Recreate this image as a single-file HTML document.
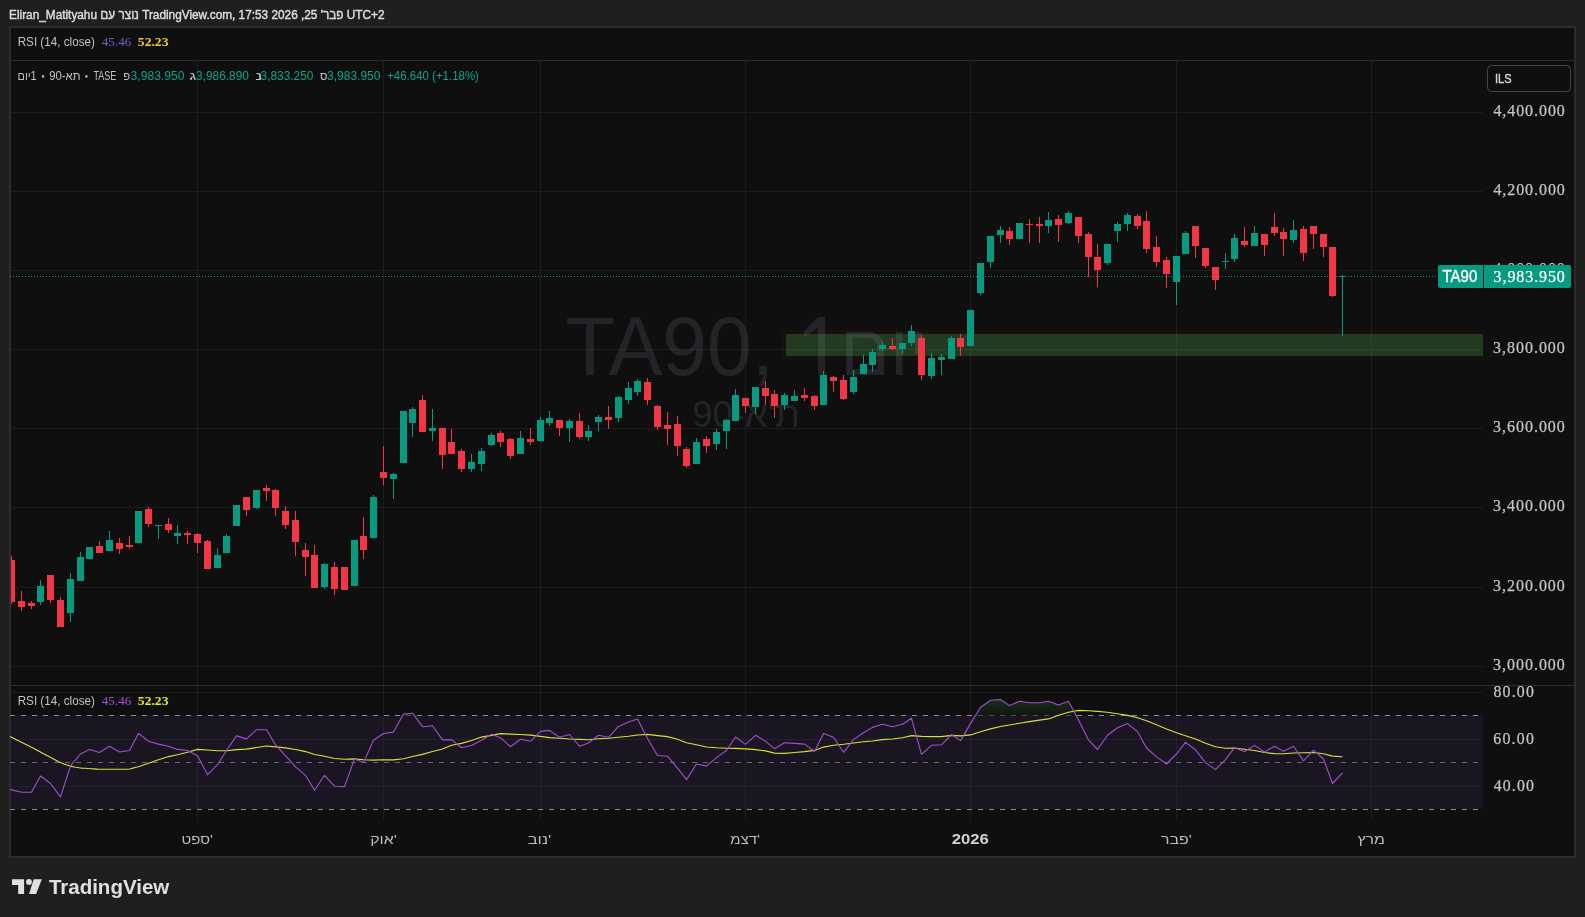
<!DOCTYPE html>
<html><head><meta charset="utf-8">
<style>
html,body{margin:0;padding:0;}
body{width:1585px;height:917px;background:#1f1f1f;position:relative;overflow:hidden;font-family:"Liberation Sans",sans-serif;}
</style></head><body>
<div style="position:absolute;left:9px;top:26px;width:1563px;height:828px;border:2px solid #2c2c2c;background:#0f0f0f;"></div>
<svg width="1585" height="917" style="position:absolute;left:0;top:0;will-change:transform">
<defs><clipPath id="pane"><rect x="11" y="61" width="1472" height="624"/></clipPath>
<linearGradient id="obg" x1="0" y1="692" x2="0" y2="715.5" gradientUnits="userSpaceOnUse"><stop offset="0" stop-color="#1d3a1f"/><stop offset="1" stop-color="#111611"/></linearGradient></defs>
<rect x="11" y="60" width="1564" height="1" fill="#2a2a2a"/>
<rect x="11" y="685" width="1564" height="1" fill="#2e2e2e"/>
<rect x="11" y="112" width="1472" height="1" fill="#1d1d1d"/><rect x="11" y="191" width="1472" height="1" fill="#1d1d1d"/><rect x="11" y="270" width="1472" height="1" fill="#1d1d1d"/><rect x="11" y="349" width="1472" height="1" fill="#1d1d1d"/><rect x="11" y="428" width="1472" height="1" fill="#1d1d1d"/><rect x="11" y="507" width="1472" height="1" fill="#1d1d1d"/><rect x="11" y="587" width="1472" height="1" fill="#1d1d1d"/><rect x="11" y="666" width="1472" height="1" fill="#1d1d1d"/><rect x="197" y="61" width="1" height="624" fill="#1d1d1d"/><rect x="197" y="686" width="1" height="135" fill="#1d1d1d"/><rect x="383" y="61" width="1" height="624" fill="#1d1d1d"/><rect x="383" y="686" width="1" height="135" fill="#1d1d1d"/><rect x="540" y="61" width="1" height="624" fill="#1d1d1d"/><rect x="540" y="686" width="1" height="135" fill="#1d1d1d"/><rect x="745" y="61" width="1" height="624" fill="#1d1d1d"/><rect x="745" y="686" width="1" height="135" fill="#1d1d1d"/><rect x="970" y="61" width="1" height="624" fill="#1d1d1d"/><rect x="970" y="686" width="1" height="135" fill="#1d1d1d"/><rect x="1176" y="61" width="1" height="624" fill="#1d1d1d"/><rect x="1176" y="686" width="1" height="135" fill="#1d1d1d"/><rect x="1371" y="61" width="1" height="624" fill="#1d1d1d"/><rect x="1371" y="686" width="1" height="135" fill="#1d1d1d"/><path d="M782,330 H1483 V360 H782 Z M786,334 V356 H1483 V334 Z" fill-rule="evenodd" fill="rgba(242,54,69,0.04)"/><rect x="786" y="334" width="697" height="22" fill="rgba(105,230,100,0.2)"/><g fill="rgba(178,181,205,0.125)"><text transform="translate(565.59,375.20) scale(0.9704,1)" x="0" y="0" font-family="Liberation Sans" font-size="82.86" font-weight="400" style="unicode-bidi:bidi-override;direction:ltr;white-space:pre" >TA90,</text><path d="M818.1,317.1 H825 V374.9 H818.1 V327.6 L803.8,337.8 V331.2 Z"/><text transform="translate(839.96,374.90) scale(1.0342,1)" x="0" y="0" font-family="Liberation Sans" font-size="71.00" font-weight="400" style="unicode-bidi:bidi-override;direction:ltr;white-space:pre" >םוי</text></g><text transform="translate(692.20,426.70) scale(0.9943,1)" x="0" y="0" font-family="Liberation Sans" font-size="36.71" font-weight="400" fill="rgba(178,181,205,0.125)" style="unicode-bidi:bidi-override;direction:ltr;white-space:pre" >90-א'ת</text><line x1="10" y1="276.5" x2="1438" y2="276.5" stroke="#089981" stroke-width="1" stroke-dasharray="1 2"/><g clip-path="url(#pane)"><rect x="11" y="556" width="1" height="48" fill="#f23645"/><rect x="8" y="560" width="7" height="42" fill="#f23645"/><rect x="21" y="591" width="1" height="20" fill="#f23645"/><rect x="18" y="601" width="7" height="6" fill="#f23645"/><rect x="31" y="601" width="1" height="8" fill="#f23645"/><rect x="28" y="603" width="7" height="3" fill="#f23645"/><rect x="40" y="580" width="1" height="25" fill="#089981"/><rect x="37" y="586" width="7" height="16" fill="#089981"/><rect x="50" y="575" width="1" height="28" fill="#f23645"/><rect x="47" y="575" width="7" height="25" fill="#f23645"/><rect x="60" y="597" width="1" height="30" fill="#f23645"/><rect x="57" y="600" width="7" height="27" fill="#f23645"/><rect x="70" y="573" width="1" height="49" fill="#089981"/><rect x="67" y="579" width="7" height="34" fill="#089981"/><rect x="80" y="552" width="1" height="29" fill="#089981"/><rect x="77" y="557" width="7" height="24" fill="#089981"/><rect x="89" y="547" width="1" height="12" fill="#089981"/><rect x="86" y="547" width="7" height="12" fill="#089981"/><rect x="99" y="541" width="1" height="12" fill="#f23645"/><rect x="96" y="546" width="7" height="7" fill="#f23645"/><rect x="109" y="531" width="1" height="20" fill="#089981"/><rect x="106" y="540" width="7" height="11" fill="#089981"/><rect x="119" y="538" width="1" height="16" fill="#f23645"/><rect x="116" y="543" width="7" height="6" fill="#f23645"/><rect x="129" y="536" width="1" height="13" fill="#f23645"/><rect x="126" y="545" width="7" height="2" fill="#f23645"/><rect x="138" y="511" width="1" height="32" fill="#089981"/><rect x="135" y="511" width="7" height="32" fill="#089981"/><rect x="148" y="507" width="1" height="20" fill="#f23645"/><rect x="145" y="509" width="7" height="15" fill="#f23645"/><rect x="158" y="525" width="1" height="14" fill="#089981"/><rect x="155" y="525" width="7" height="1" fill="#089981"/><rect x="168" y="518" width="1" height="15" fill="#f23645"/><rect x="165" y="524" width="7" height="6" fill="#f23645"/><rect x="177" y="525" width="1" height="19" fill="#089981"/><rect x="174" y="533" width="7" height="3" fill="#089981"/><rect x="187" y="531" width="1" height="13" fill="#f23645"/><rect x="184" y="533" width="7" height="2" fill="#f23645"/><rect x="197" y="533" width="1" height="20" fill="#f23645"/><rect x="194" y="534" width="7" height="9" fill="#f23645"/><rect x="207" y="540" width="1" height="29" fill="#f23645"/><rect x="204" y="541" width="7" height="28" fill="#f23645"/><rect x="217" y="548" width="1" height="20" fill="#089981"/><rect x="214" y="555" width="7" height="13" fill="#089981"/><rect x="226" y="534" width="1" height="19" fill="#089981"/><rect x="223" y="536" width="7" height="17" fill="#089981"/><rect x="236" y="505" width="1" height="21" fill="#089981"/><rect x="233" y="505" width="7" height="21" fill="#089981"/><rect x="246" y="497" width="1" height="19" fill="#f23645"/><rect x="243" y="497" width="7" height="13" fill="#f23645"/><rect x="256" y="490" width="1" height="19" fill="#089981"/><rect x="253" y="490" width="7" height="18" fill="#089981"/><rect x="266" y="485" width="1" height="16" fill="#f23645"/><rect x="263" y="488" width="7" height="3" fill="#f23645"/><rect x="275" y="489" width="1" height="27" fill="#f23645"/><rect x="272" y="490" width="7" height="18" fill="#f23645"/><rect x="285" y="506" width="1" height="23" fill="#f23645"/><rect x="282" y="511" width="7" height="14" fill="#f23645"/><rect x="295" y="511" width="1" height="45" fill="#f23645"/><rect x="292" y="520" width="7" height="22" fill="#f23645"/><rect x="305" y="543" width="1" height="33" fill="#f23645"/><rect x="302" y="550" width="7" height="7" fill="#f23645"/><rect x="314" y="545" width="1" height="43" fill="#f23645"/><rect x="311" y="555" width="7" height="33" fill="#f23645"/><rect x="324" y="563" width="1" height="26" fill="#089981"/><rect x="321" y="564" width="7" height="23" fill="#089981"/><rect x="334" y="562" width="1" height="33" fill="#f23645"/><rect x="331" y="567" width="7" height="22" fill="#f23645"/><rect x="344" y="567" width="1" height="23" fill="#f23645"/><rect x="341" y="567" width="7" height="23" fill="#f23645"/><rect x="354" y="540" width="1" height="46" fill="#089981"/><rect x="351" y="540" width="7" height="46" fill="#089981"/><rect x="363" y="517" width="1" height="42" fill="#f23645"/><rect x="360" y="536" width="7" height="14" fill="#f23645"/><rect x="373" y="495" width="1" height="43" fill="#089981"/><rect x="370" y="497" width="7" height="41" fill="#089981"/><rect x="383" y="446" width="1" height="39" fill="#f23645"/><rect x="380" y="472" width="7" height="6" fill="#f23645"/><rect x="393" y="473" width="1" height="26" fill="#089981"/><rect x="390" y="474" width="7" height="5" fill="#089981"/><rect x="403" y="411" width="1" height="52" fill="#089981"/><rect x="400" y="411" width="7" height="52" fill="#089981"/><rect x="412" y="407" width="1" height="30" fill="#089981"/><rect x="409" y="409" width="7" height="14" fill="#089981"/><rect x="422" y="395" width="1" height="37" fill="#f23645"/><rect x="419" y="400" width="7" height="32" fill="#f23645"/><rect x="432" y="409" width="1" height="32" fill="#089981"/><rect x="429" y="428" width="7" height="3" fill="#089981"/><rect x="442" y="428" width="1" height="41" fill="#f23645"/><rect x="439" y="428" width="7" height="27" fill="#f23645"/><rect x="451" y="429" width="1" height="25" fill="#f23645"/><rect x="448" y="442" width="7" height="12" fill="#f23645"/><rect x="461" y="449" width="1" height="23" fill="#f23645"/><rect x="458" y="451" width="7" height="18" fill="#f23645"/><rect x="471" y="454" width="1" height="18" fill="#089981"/><rect x="468" y="462" width="7" height="7" fill="#089981"/><rect x="481" y="448" width="1" height="23" fill="#089981"/><rect x="478" y="451" width="7" height="13" fill="#089981"/><rect x="491" y="433" width="1" height="13" fill="#089981"/><rect x="488" y="435" width="7" height="10" fill="#089981"/><rect x="500" y="431" width="1" height="16" fill="#f23645"/><rect x="497" y="433" width="7" height="9" fill="#f23645"/><rect x="510" y="438" width="1" height="21" fill="#f23645"/><rect x="507" y="439" width="7" height="17" fill="#f23645"/><rect x="520" y="431" width="1" height="23" fill="#089981"/><rect x="517" y="438" width="7" height="16" fill="#089981"/><rect x="530" y="428" width="1" height="17" fill="#f23645"/><rect x="527" y="439" width="7" height="3" fill="#f23645"/><rect x="540" y="417" width="1" height="25" fill="#089981"/><rect x="537" y="420" width="7" height="21" fill="#089981"/><rect x="549" y="411" width="1" height="15" fill="#089981"/><rect x="546" y="418" width="7" height="5" fill="#089981"/><rect x="559" y="420" width="1" height="16" fill="#f23645"/><rect x="556" y="420" width="7" height="8" fill="#f23645"/><rect x="569" y="419" width="1" height="23" fill="#089981"/><rect x="566" y="421" width="7" height="7" fill="#089981"/><rect x="579" y="413" width="1" height="26" fill="#f23645"/><rect x="576" y="421" width="7" height="16" fill="#f23645"/><rect x="588" y="425" width="1" height="16" fill="#089981"/><rect x="585" y="431" width="7" height="6" fill="#089981"/><rect x="598" y="415" width="1" height="16" fill="#089981"/><rect x="595" y="417" width="7" height="5" fill="#089981"/><rect x="608" y="406" width="1" height="23" fill="#f23645"/><rect x="605" y="417" width="7" height="3" fill="#f23645"/><rect x="618" y="396" width="1" height="26" fill="#089981"/><rect x="615" y="397" width="7" height="21" fill="#089981"/><rect x="628" y="382" width="1" height="22" fill="#089981"/><rect x="625" y="388" width="7" height="12" fill="#089981"/><rect x="637" y="379" width="1" height="17" fill="#089981"/><rect x="634" y="381" width="7" height="11" fill="#089981"/><rect x="647" y="378" width="1" height="27" fill="#f23645"/><rect x="644" y="382" width="7" height="18" fill="#f23645"/><rect x="657" y="405" width="1" height="25" fill="#f23645"/><rect x="654" y="406" width="7" height="21" fill="#f23645"/><rect x="667" y="412" width="1" height="33" fill="#f23645"/><rect x="664" y="425" width="7" height="4" fill="#f23645"/><rect x="677" y="416" width="1" height="40" fill="#f23645"/><rect x="674" y="424" width="7" height="22" fill="#f23645"/><rect x="686" y="447" width="1" height="21" fill="#f23645"/><rect x="683" y="449" width="7" height="17" fill="#f23645"/><rect x="696" y="438" width="1" height="26" fill="#089981"/><rect x="693" y="442" width="7" height="22" fill="#089981"/><rect x="706" y="436" width="1" height="17" fill="#f23645"/><rect x="703" y="439" width="7" height="7" fill="#f23645"/><rect x="716" y="429" width="1" height="21" fill="#089981"/><rect x="713" y="432" width="7" height="12" fill="#089981"/><rect x="726" y="419" width="1" height="30" fill="#089981"/><rect x="723" y="420" width="7" height="11" fill="#089981"/><rect x="735" y="389" width="1" height="32" fill="#089981"/><rect x="732" y="395" width="7" height="26" fill="#089981"/><rect x="745" y="398" width="1" height="15" fill="#f23645"/><rect x="742" y="398" width="7" height="8" fill="#f23645"/><rect x="755" y="387" width="1" height="27" fill="#089981"/><rect x="752" y="387" width="7" height="20" fill="#089981"/><rect x="765" y="381" width="1" height="24" fill="#f23645"/><rect x="762" y="388" width="7" height="8" fill="#f23645"/><rect x="774" y="390" width="1" height="28" fill="#f23645"/><rect x="771" y="394" width="7" height="12" fill="#f23645"/><rect x="784" y="393" width="1" height="17" fill="#089981"/><rect x="781" y="395" width="7" height="10" fill="#089981"/><rect x="794" y="390" width="1" height="11" fill="#089981"/><rect x="791" y="396" width="7" height="5" fill="#089981"/><rect x="804" y="388" width="1" height="13" fill="#f23645"/><rect x="801" y="395" width="7" height="3" fill="#f23645"/><rect x="814" y="395" width="1" height="15" fill="#f23645"/><rect x="811" y="396" width="7" height="10" fill="#f23645"/><rect x="823" y="371" width="1" height="34" fill="#089981"/><rect x="820" y="375" width="7" height="30" fill="#089981"/><rect x="833" y="376" width="1" height="16" fill="#f23645"/><rect x="830" y="377" width="7" height="4" fill="#f23645"/><rect x="843" y="375" width="1" height="25" fill="#f23645"/><rect x="840" y="380" width="7" height="19" fill="#f23645"/><rect x="853" y="370" width="1" height="24" fill="#089981"/><rect x="850" y="377" width="7" height="15" fill="#089981"/><rect x="863" y="355" width="1" height="19" fill="#089981"/><rect x="860" y="364" width="7" height="10" fill="#089981"/><rect x="872" y="349" width="1" height="23" fill="#089981"/><rect x="869" y="352" width="7" height="13" fill="#089981"/><rect x="882" y="342" width="1" height="9" fill="#089981"/><rect x="879" y="345" width="7" height="4" fill="#089981"/><rect x="892" y="338" width="1" height="12" fill="#f23645"/><rect x="889" y="346" width="7" height="3" fill="#f23645"/><rect x="902" y="343" width="1" height="11" fill="#089981"/><rect x="899" y="343" width="7" height="6" fill="#089981"/><rect x="911" y="325" width="1" height="21" fill="#089981"/><rect x="908" y="331" width="7" height="12" fill="#089981"/><rect x="921" y="335" width="1" height="45" fill="#f23645"/><rect x="918" y="338" width="7" height="37" fill="#f23645"/><rect x="931" y="353" width="1" height="26" fill="#089981"/><rect x="928" y="358" width="7" height="18" fill="#089981"/><rect x="941" y="354" width="1" height="21" fill="#089981"/><rect x="938" y="357" width="7" height="3" fill="#089981"/><rect x="951" y="336" width="1" height="23" fill="#089981"/><rect x="948" y="338" width="7" height="21" fill="#089981"/><rect x="960" y="334" width="1" height="22" fill="#f23645"/><rect x="957" y="338" width="7" height="9" fill="#f23645"/><rect x="970" y="310" width="1" height="36" fill="#089981"/><rect x="967" y="310" width="7" height="36" fill="#089981"/><rect x="980" y="263" width="1" height="32" fill="#089981"/><rect x="977" y="263" width="7" height="30" fill="#089981"/><rect x="990" y="236" width="1" height="32" fill="#089981"/><rect x="987" y="236" width="7" height="26" fill="#089981"/><rect x="1000" y="226" width="1" height="17" fill="#089981"/><rect x="997" y="230" width="7" height="5" fill="#089981"/><rect x="1009" y="227" width="1" height="18" fill="#f23645"/><rect x="1006" y="231" width="7" height="8" fill="#f23645"/><rect x="1019" y="223" width="1" height="16" fill="#089981"/><rect x="1016" y="223" width="7" height="16" fill="#089981"/><rect x="1029" y="219" width="1" height="24" fill="#f23645"/><rect x="1026" y="224" width="7" height="1" fill="#f23645"/><rect x="1039" y="217" width="1" height="26" fill="#f23645"/><rect x="1036" y="224" width="7" height="2" fill="#f23645"/><rect x="1048" y="212" width="1" height="21" fill="#089981"/><rect x="1045" y="220" width="7" height="6" fill="#089981"/><rect x="1058" y="215" width="1" height="27" fill="#f23645"/><rect x="1055" y="219" width="7" height="6" fill="#f23645"/><rect x="1068" y="211" width="1" height="13" fill="#089981"/><rect x="1065" y="213" width="7" height="10" fill="#089981"/><rect x="1078" y="217" width="1" height="26" fill="#f23645"/><rect x="1075" y="217" width="7" height="19" fill="#f23645"/><rect x="1088" y="232" width="1" height="45" fill="#f23645"/><rect x="1085" y="234" width="7" height="23" fill="#f23645"/><rect x="1097" y="244" width="1" height="43" fill="#f23645"/><rect x="1094" y="257" width="7" height="13" fill="#f23645"/><rect x="1107" y="244" width="1" height="21" fill="#089981"/><rect x="1104" y="244" width="7" height="19" fill="#089981"/><rect x="1117" y="222" width="1" height="20" fill="#089981"/><rect x="1114" y="224" width="7" height="7" fill="#089981"/><rect x="1127" y="213" width="1" height="18" fill="#089981"/><rect x="1124" y="215" width="7" height="9" fill="#089981"/><rect x="1137" y="214" width="1" height="15" fill="#f23645"/><rect x="1134" y="216" width="7" height="10" fill="#f23645"/><rect x="1146" y="211" width="1" height="42" fill="#f23645"/><rect x="1143" y="221" width="7" height="28" fill="#f23645"/><rect x="1156" y="236" width="1" height="31" fill="#f23645"/><rect x="1153" y="247" width="7" height="15" fill="#f23645"/><rect x="1166" y="257" width="1" height="31" fill="#f23645"/><rect x="1163" y="260" width="7" height="14" fill="#f23645"/><rect x="1176" y="256" width="1" height="49" fill="#089981"/><rect x="1173" y="256" width="7" height="26" fill="#089981"/><rect x="1185" y="231" width="1" height="23" fill="#089981"/><rect x="1182" y="233" width="7" height="21" fill="#089981"/><rect x="1195" y="226" width="1" height="32" fill="#f23645"/><rect x="1192" y="226" width="7" height="20" fill="#f23645"/><rect x="1205" y="248" width="1" height="20" fill="#f23645"/><rect x="1202" y="248" width="7" height="18" fill="#f23645"/><rect x="1215" y="267" width="1" height="23" fill="#f23645"/><rect x="1212" y="267" width="7" height="13" fill="#f23645"/><rect x="1225" y="253" width="1" height="16" fill="#089981"/><rect x="1222" y="261" width="7" height="1" fill="#089981"/><rect x="1234" y="234" width="1" height="28" fill="#089981"/><rect x="1231" y="238" width="7" height="21" fill="#089981"/><rect x="1244" y="227" width="1" height="20" fill="#f23645"/><rect x="1241" y="241" width="7" height="4" fill="#f23645"/><rect x="1254" y="226" width="1" height="20" fill="#089981"/><rect x="1251" y="233" width="7" height="13" fill="#089981"/><rect x="1264" y="234" width="1" height="22" fill="#f23645"/><rect x="1261" y="234" width="7" height="11" fill="#f23645"/><rect x="1274" y="213" width="1" height="23" fill="#f23645"/><rect x="1271" y="227" width="7" height="6" fill="#f23645"/><rect x="1283" y="228" width="1" height="28" fill="#f23645"/><rect x="1280" y="232" width="7" height="7" fill="#f23645"/><rect x="1293" y="220" width="1" height="23" fill="#089981"/><rect x="1290" y="230" width="7" height="10" fill="#089981"/><rect x="1303" y="226" width="1" height="35" fill="#f23645"/><rect x="1300" y="229" width="7" height="24" fill="#f23645"/><rect x="1313" y="226" width="1" height="23" fill="#f23645"/><rect x="1310" y="226" width="7" height="8" fill="#f23645"/><rect x="1323" y="234" width="1" height="23" fill="#f23645"/><rect x="1320" y="234" width="7" height="13" fill="#f23645"/><rect x="1332" y="247" width="1" height="50" fill="#f23645"/><rect x="1329" y="247" width="7" height="49" fill="#f23645"/><rect x="1342" y="275" width="1" height="61" fill="#089981"/><rect x="1339" y="276" width="7" height="1" fill="#089981"/></g><rect x="11" y="715" width="1472" height="94" fill="#1a1621"/><rect x="11" y="692" width="1472" height="1" fill="rgba(255,255,255,0.05)"/><rect x="11" y="739" width="1472" height="1" fill="rgba(255,255,255,0.05)"/><rect x="11" y="786" width="1472" height="1" fill="rgba(255,255,255,0.05)"/><rect x="197" y="715" width="1" height="95" fill="rgba(255,255,255,0.05)"/><rect x="383" y="715" width="1" height="95" fill="rgba(255,255,255,0.05)"/><rect x="540" y="715" width="1" height="95" fill="rgba(255,255,255,0.05)"/><rect x="745" y="715" width="1" height="95" fill="rgba(255,255,255,0.05)"/><rect x="970" y="715" width="1" height="95" fill="rgba(255,255,255,0.05)"/><rect x="1176" y="715" width="1" height="95" fill="rgba(255,255,255,0.05)"/><rect x="1371" y="715" width="1" height="95" fill="rgba(255,255,255,0.05)"/><line x1="10" y1="715.5" x2="1483" y2="715.5" stroke="#8a8a92" stroke-width="1" stroke-dasharray="5 6"/><line x1="10" y1="762.5" x2="1483" y2="762.5" stroke="#66666e" stroke-width="1" stroke-dasharray="5 6"/><line x1="10" y1="809.5" x2="1483" y2="809.5" stroke="#8a8a92" stroke-width="1" stroke-dasharray="5 6"/><path d="M10.0,715.5 L21.5,715.5 L31.5,715.5 L40.5,715.5 L50.5,715.5 L60.5,715.5 L70.5,715.5 L80.5,715.5 L89.5,715.5 L99.5,715.5 L109.5,715.5 L119.5,715.5 L129.5,715.5 L138.5,715.5 L148.5,715.5 L158.5,715.5 L168.5,715.5 L177.5,715.5 L187.5,715.5 L197.5,715.5 L207.5,715.5 L217.5,715.5 L226.5,715.5 L236.5,715.5 L246.5,715.5 L256.5,715.5 L266.5,715.5 L275.5,715.5 L285.5,715.5 L295.5,715.5 L305.5,715.5 L314.5,715.5 L324.5,715.5 L334.5,715.5 L344.5,715.5 L354.5,715.5 L363.5,715.5 L373.5,715.5 L383.5,715.5 L393.5,715.5 L402.7,715.5 L403.5,714.1 L412.5,713.2 L414.2,715.5 L422.5,715.5 L432.5,715.5 L442.5,715.5 L451.5,715.5 L461.5,715.5 L471.5,715.5 L481.5,715.5 L491.5,715.5 L500.5,715.5 L510.5,715.5 L520.5,715.5 L530.5,715.5 L540.5,715.5 L549.5,715.5 L559.5,715.5 L569.5,715.5 L579.5,715.5 L588.5,715.5 L598.5,715.5 L608.5,715.5 L618.5,715.5 L628.5,715.5 L637.5,715.5 L647.5,715.5 L657.5,715.5 L667.5,715.5 L677.5,715.5 L686.5,715.5 L696.5,715.5 L706.5,715.5 L716.5,715.5 L726.5,715.5 L735.5,715.5 L745.5,715.5 L755.5,715.5 L765.5,715.5 L774.5,715.5 L784.5,715.5 L794.5,715.5 L804.5,715.5 L814.5,715.5 L823.5,715.5 L833.5,715.5 L843.5,715.5 L853.5,715.5 L863.5,715.5 L872.5,715.5 L882.5,715.5 L892.5,715.5 L902.5,715.5 L911.5,715.5 L921.5,715.5 L931.5,715.5 L941.5,715.5 L951.5,715.5 L960.5,715.5 L970.5,715.5 L975.5,715.5 L980.5,707.5 L990.5,700.2 L1000.5,699.5 L1009.5,705.6 L1019.5,701.3 L1029.5,702.7 L1039.5,702.7 L1048.5,701.3 L1058.5,705.1 L1068.5,701.3 L1076.1,715.5 L1078.5,715.5 L1088.5,715.5 L1097.5,715.5 L1107.5,715.5 L1117.5,715.5 L1127.5,715.5 L1137.5,715.5 L1146.5,715.5 L1156.5,715.5 L1166.5,715.5 L1176.5,715.5 L1185.5,715.5 L1195.5,715.5 L1205.5,715.5 L1215.5,715.5 L1225.5,715.5 L1234.5,715.5 L1244.5,715.5 L1254.5,715.5 L1264.5,715.5 L1274.5,715.5 L1283.5,715.5 L1293.5,715.5 L1303.5,715.5 L1313.5,715.5 L1323.5,715.5 L1332.5,715.5 L1342.5,715.5 L1342.5,715.5 L10,715.5 Z" fill="url(#obg)"/><polyline points="10.0,736.5 13.0,738.0 16.0,739.5 19.0,741.0 22.0,742.5 25.0,744.0 28.0,745.5 31.0,747.1 34.0,748.6 37.0,750.2 40.0,751.8 43.0,753.4 46.0,755.0 49.0,756.6 52.0,758.2 55.0,759.8 58.0,761.4 61.0,762.7 64.0,763.9 67.0,765.1 70.0,766.1 73.0,766.7 76.0,767.3 79.0,767.8 82.0,768.1 85.0,768.3 88.0,768.5 91.0,768.7 94.0,768.9 97.0,769.1 100.0,769.2 103.0,769.2 106.0,769.2 109.0,769.2 112.0,769.2 115.0,769.2 118.0,769.2 121.0,769.2 124.0,769.2 127.0,769.2 130.0,769.0 133.0,768.1 136.0,767.2 138.5,766.7 148.5,763.3 158.5,759.8 168.5,756.6 177.5,754.7 187.5,752.3 197.5,749.4 207.5,750.0 217.5,750.8 226.5,750.8 236.5,749.6 246.5,749.1 256.5,747.5 266.5,746.0 275.5,746.9 285.5,747.9 295.5,749.5 305.5,751.6 314.5,754.5 324.5,756.3 334.5,758.5 344.5,759.3 354.5,758.9 363.5,759.8 373.5,760.1 383.5,759.7 393.5,759.9 403.5,758.7 412.5,756.5 422.5,754.4 432.5,751.5 442.5,749.0 451.5,745.3 461.5,743.4 471.5,740.5 481.5,737.1 491.5,735.4 500.5,733.6 510.5,734.1 520.5,734.5 530.5,735.1 540.5,736.4 549.5,737.6 559.5,738.3 569.5,739.0 579.5,739.4 588.5,739.7 598.5,738.8 608.5,738.2 618.5,737.2 628.5,736.3 637.5,735.0 647.5,734.4 657.5,735.6 667.5,736.6 677.5,739.3 686.5,742.8 696.5,744.7 706.5,747.0 716.5,747.8 726.5,748.3 735.5,748.4 745.5,748.9 755.5,749.6 765.5,750.9 774.5,753.1 784.5,753.4 794.5,752.5 804.5,751.6 814.5,750.4 823.5,747.1 833.5,745.2 843.5,744.3 853.5,743.0 863.5,741.7 872.5,741.0 882.5,739.6 892.5,739.0 902.5,737.8 911.5,735.6 921.5,736.4 931.5,736.6 941.5,736.6 951.5,735.4 960.5,735.9 970.5,734.9 980.5,731.7 990.5,728.9 1000.5,726.5 1009.5,725.0 1019.5,723.3 1029.5,721.6 1039.5,720.1 1048.5,718.9 1058.5,715.3 1068.5,712.2 1078.5,710.4 1088.5,710.8 1097.5,711.4 1107.5,712.3 1117.5,713.7 1127.5,715.4 1137.5,717.7 1146.5,720.7 1156.5,724.7 1166.5,729.1 1176.5,732.7 1185.5,735.7 1195.5,738.9 1205.5,743.2 1215.5,746.8 1225.5,748.2 1234.5,748.1 1244.5,749.2 1254.5,750.5 1264.5,752.5 1274.5,753.6 1283.5,753.8 1293.5,753.0 1303.5,752.8 1313.5,752.5 1323.5,753.7 1332.5,756.1 1342.5,756.8" fill="none" stroke="#d8e235" stroke-width="1.1" stroke-linejoin="round"/><polyline points="10.0,789.4 21.5,792.3 31.5,792.3 40.5,776.0 50.5,783.5 60.5,796.8 70.5,765.8 80.5,754.0 89.5,749.5 99.5,752.5 109.5,746.2 119.5,752.0 129.5,750.5 138.5,733.4 148.5,741.3 158.5,744.1 168.5,746.2 177.5,749.4 187.5,750.5 197.5,755.7 207.5,774.6 217.5,764.7 226.5,750.5 236.5,735.9 246.5,738.9 256.5,729.7 266.5,729.7 275.5,744.8 285.5,755.7 295.5,766.8 305.5,775.3 314.5,790.2 324.5,775.3 334.5,786.2 344.5,786.6 354.5,759.0 363.5,762.6 373.5,740.2 383.5,733.5 393.5,732.1 403.5,714.1 412.5,713.2 422.5,726.7 432.5,725.7 442.5,739.9 451.5,739.6 461.5,747.7 471.5,745.5 481.5,740.2 491.5,734.2 500.5,737.7 510.5,746.7 520.5,739.2 530.5,741.3 540.5,731.4 549.5,730.4 559.5,737.3 569.5,734.5 579.5,746.2 588.5,743.0 598.5,735.3 608.5,737.3 618.5,726.4 628.5,722.1 637.5,718.9 647.5,738.5 657.5,755.5 667.5,756.2 677.5,768.2 686.5,779.6 696.5,764.0 706.5,766.1 716.5,757.6 726.5,750.5 735.5,737.0 745.5,744.4 755.5,735.3 765.5,741.3 774.5,748.7 784.5,742.7 794.5,743.4 804.5,744.1 814.5,751.5 823.5,733.5 833.5,737.3 843.5,752.3 853.5,739.6 863.5,732.8 872.5,727.4 882.5,724.3 892.5,726.8 902.5,724.3 911.5,718.3 921.5,754.3 931.5,745.3 941.5,744.8 951.5,734.5 960.5,740.6 970.5,723.6 980.5,707.5 990.5,700.2 1000.5,699.5 1009.5,705.6 1019.5,701.3 1029.5,702.7 1039.5,702.7 1048.5,701.3 1058.5,705.1 1068.5,701.3 1078.5,720.0 1088.5,739.9 1097.5,749.5 1107.5,735.2 1117.5,727.8 1127.5,723.6 1137.5,731.6 1146.5,748.0 1156.5,756.9 1166.5,764.0 1176.5,754.0 1185.5,742.4 1195.5,749.8 1205.5,762.6 1215.5,769.6 1225.5,759.7 1234.5,747.7 1244.5,751.5 1254.5,745.4 1264.5,752.0 1274.5,746.2 1283.5,751.2 1293.5,746.2 1303.5,760.9 1313.5,750.1 1323.5,759.0 1332.5,783.5 1342.5,772.8" fill="none" stroke="#a24fd0" stroke-width="1.1" stroke-linejoin="round"/><rect x="1487.5" y="65.5" width="83" height="26" rx="4" ry="4" fill="#0f0f0f" stroke="#454545" stroke-width="1"/>
<text transform="translate(9.05,18.70) scale(0.9383,1)" x="0" y="0" font-family="Liberation Sans" font-size="12.60" font-weight="400" fill="#dcdcdc" style="unicode-bidi:bidi-override;direction:ltr;white-space:pre" stroke="#dcdcdc" stroke-width="0.45">Eliran_Matityahu םע רצונ TradingView.com, 17:53 2026 ,25 'רבפ UTC+2</text><text transform="translate(17.67,45.90) scale(0.9423,1)" x="0" y="0" font-family="Liberation Sans" font-size="12.40" font-weight="400" fill="#c2c2c2" style="unicode-bidi:bidi-override;direction:ltr;white-space:pre" >RSI (14, close)</text><text transform="translate(101.74,45.80) scale(0.9986,1)" x="0" y="0" font-family="Liberation Serif" font-size="13.20" font-weight="400" fill="#7e5ad2" style="unicode-bidi:bidi-override;direction:ltr;white-space:pre" >45.46</text><text transform="translate(137.86,45.80) scale(1.0310,1)" x="0" y="0" font-family="Liberation Serif" font-size="13.20" font-weight="700" fill="#f0ca35" style="unicode-bidi:bidi-override;direction:ltr;white-space:pre" >52.23</text><text transform="translate(17.58,79.60) scale(0.8770,1)" x="0" y="0" font-family="Liberation Sans" font-size="12.40" font-weight="400" fill="#c2c2c2" style="unicode-bidi:bidi-override;direction:ltr;white-space:pre" >םוי1</text><text transform="translate(49.26,79.60) scale(0.9110,1)" x="0" y="0" font-family="Liberation Sans" font-size="12.40" font-weight="400" fill="#c2c2c2" style="unicode-bidi:bidi-override;direction:ltr;white-space:pre" >90-את</text><text transform="translate(93.42,79.60) scale(0.7299,1)" x="0" y="0" font-family="Liberation Sans" font-size="12.40" font-weight="400" fill="#c2c2c2" style="unicode-bidi:bidi-override;direction:ltr;white-space:pre" >TASE</text><rect x="41.9" y="75.3" width="2.3" height="2.2" fill="#c2c2c2"/><rect x="85.2" y="75.3" width="2.3" height="2.2" fill="#c2c2c2"/><text transform="translate(123.21,79.60) scale(0.9145,1)" x="0" y="0" font-family="Liberation Sans" font-size="12.40" font-weight="400" fill="#c2c2c2" style="unicode-bidi:bidi-override;direction:ltr;white-space:pre" >פ</text><text transform="translate(130.58,79.60) scale(0.9758,1)" x="0" y="0" font-family="Liberation Sans" font-size="12.40" font-weight="400" fill="#0ea38a" style="unicode-bidi:bidi-override;direction:ltr;white-space:pre" >3,983.950</text><text transform="translate(189.51,79.60) scale(1.3078,1)" x="0" y="0" font-family="Liberation Sans" font-size="12.40" font-weight="400" fill="#c2c2c2" style="unicode-bidi:bidi-override;direction:ltr;white-space:pre" >ג</text><text transform="translate(196.08,79.60) scale(0.9574,1)" x="0" y="0" font-family="Liberation Sans" font-size="12.40" font-weight="400" fill="#0ea38a" style="unicode-bidi:bidi-override;direction:ltr;white-space:pre" >3,986.890</text><text transform="translate(255.36,79.60) scale(1.4663,1)" x="0" y="0" font-family="Liberation Sans" font-size="12.40" font-weight="400" fill="#c2c2c2" style="unicode-bidi:bidi-override;direction:ltr;white-space:pre" >נ</text><text transform="translate(260.58,79.60) scale(0.9574,1)" x="0" y="0" font-family="Liberation Sans" font-size="12.40" font-weight="400" fill="#0ea38a" style="unicode-bidi:bidi-override;direction:ltr;white-space:pre" >3,833.250</text><text transform="translate(320.11,79.60) scale(0.9257,1)" x="0" y="0" font-family="Liberation Sans" font-size="12.40" font-weight="400" fill="#c2c2c2" style="unicode-bidi:bidi-override;direction:ltr;white-space:pre" >ס</text><text transform="translate(327.08,79.60) scale(0.9666,1)" x="0" y="0" font-family="Liberation Sans" font-size="12.40" font-weight="400" fill="#0ea38a" style="unicode-bidi:bidi-override;direction:ltr;white-space:pre" >3,983.950</text><text transform="translate(387.13,79.60) scale(0.9255,1)" x="0" y="0" font-family="Liberation Sans" font-size="12.40" font-weight="400" fill="#0ea38a" style="unicode-bidi:bidi-override;direction:ltr;white-space:pre" >+46.640 (+1.18%)</text><text transform="translate(1495.01,82.90) scale(0.8791,1)" x="0" y="0" font-family="Liberation Sans" font-size="12.50" font-weight="400" fill="#d8d8d8" style="unicode-bidi:bidi-override;direction:ltr;white-space:pre" stroke="#d8d8d8" stroke-width="0.4">ILS</text><text x="1493.38" y="116.20" letter-spacing="0.935" font-family="Liberation Serif" font-size="16.00" font-weight="400" fill="#c4c4c4" style="unicode-bidi:bidi-override;direction:ltr;white-space:pre" stroke="#c4c4c4" stroke-width="0.25">4,400.000</text><text x="1493.38" y="195.20" letter-spacing="0.935" font-family="Liberation Serif" font-size="16.00" font-weight="400" fill="#c4c4c4" style="unicode-bidi:bidi-override;direction:ltr;white-space:pre" stroke="#c4c4c4" stroke-width="0.25">4,200.000</text><text x="1493.38" y="274.20" letter-spacing="0.935" font-family="Liberation Serif" font-size="16.00" font-weight="400" fill="#c4c4c4" style="unicode-bidi:bidi-override;direction:ltr;white-space:pre" stroke="#c4c4c4" stroke-width="0.25">4,000.000</text><text x="1492.98" y="353.20" letter-spacing="0.985" font-family="Liberation Serif" font-size="16.00" font-weight="400" fill="#c4c4c4" style="unicode-bidi:bidi-override;direction:ltr;white-space:pre" stroke="#c4c4c4" stroke-width="0.25">3,800.000</text><text x="1492.98" y="432.20" letter-spacing="0.985" font-family="Liberation Serif" font-size="16.00" font-weight="400" fill="#c4c4c4" style="unicode-bidi:bidi-override;direction:ltr;white-space:pre" stroke="#c4c4c4" stroke-width="0.25">3,600.000</text><text x="1492.98" y="511.20" letter-spacing="0.985" font-family="Liberation Serif" font-size="16.00" font-weight="400" fill="#c4c4c4" style="unicode-bidi:bidi-override;direction:ltr;white-space:pre" stroke="#c4c4c4" stroke-width="0.25">3,400.000</text><text x="1492.98" y="591.20" letter-spacing="0.985" font-family="Liberation Serif" font-size="16.00" font-weight="400" fill="#c4c4c4" style="unicode-bidi:bidi-override;direction:ltr;white-space:pre" stroke="#c4c4c4" stroke-width="0.25">3,200.000</text><text x="1492.98" y="670.20" letter-spacing="0.985" font-family="Liberation Serif" font-size="16.00" font-weight="400" fill="#c4c4c4" style="unicode-bidi:bidi-override;direction:ltr;white-space:pre" stroke="#c4c4c4" stroke-width="0.25">3,000.000</text><text transform="translate(17.67,704.80) scale(0.9423,1)" x="0" y="0" font-family="Liberation Sans" font-size="12.40" font-weight="400" fill="#c2c2c2" style="unicode-bidi:bidi-override;direction:ltr;white-space:pre" >RSI (14, close)</text><text transform="translate(101.74,704.60) scale(0.9986,1)" x="0" y="0" font-family="Liberation Serif" font-size="13.20" font-weight="400" fill="#a550d6" style="unicode-bidi:bidi-override;direction:ltr;white-space:pre" >45.46</text><text transform="translate(137.86,704.60) scale(1.0310,1)" x="0" y="0" font-family="Liberation Serif" font-size="13.20" font-weight="700" fill="#e2ec32" style="unicode-bidi:bidi-override;direction:ltr;white-space:pre" >52.23</text><text x="1493.45" y="697.20" letter-spacing="1.214" font-family="Liberation Serif" font-size="15.80" font-weight="400" fill="#c4c4c4" style="unicode-bidi:bidi-override;direction:ltr;white-space:pre" stroke="#c4c4c4" stroke-width="0.25">80.00</text><text x="1493.37" y="744.10" letter-spacing="1.234" font-family="Liberation Serif" font-size="15.80" font-weight="400" fill="#c4c4c4" style="unicode-bidi:bidi-override;direction:ltr;white-space:pre" stroke="#c4c4c4" stroke-width="0.25">60.00</text><text x="1493.68" y="791.20" letter-spacing="1.155" font-family="Liberation Serif" font-size="15.80" font-weight="400" fill="#c4c4c4" style="unicode-bidi:bidi-override;direction:ltr;white-space:pre" stroke="#c4c4c4" stroke-width="0.25">40.00</text><text transform="translate(181.45,843.80) scale(1.1335,1)" x="0" y="0" font-family="Liberation Sans" font-size="13.20" font-weight="400" fill="#bdbdbd" style="unicode-bidi:bidi-override;direction:ltr;white-space:pre" >טפס'</text><text transform="translate(370.20,843.80) scale(1.2102,1)" x="0" y="0" font-family="Liberation Sans" font-size="13.20" font-weight="400" fill="#bdbdbd" style="unicode-bidi:bidi-override;direction:ltr;white-space:pre" >קוא'</text><text transform="translate(527.68,843.80) scale(1.2412,1)" x="0" y="0" font-family="Liberation Sans" font-size="13.20" font-weight="400" fill="#bdbdbd" style="unicode-bidi:bidi-override;direction:ltr;white-space:pre" >בונ'</text><text transform="translate(730.25,843.80) scale(1.1384,1)" x="0" y="0" font-family="Liberation Sans" font-size="13.20" font-weight="400" fill="#bdbdbd" style="unicode-bidi:bidi-override;direction:ltr;white-space:pre" >מצד'</text><text transform="translate(1160.90,843.80) scale(1.2079,1)" x="0" y="0" font-family="Liberation Sans" font-size="13.20" font-weight="400" fill="#bdbdbd" style="unicode-bidi:bidi-override;direction:ltr;white-space:pre" >רבפ'</text><text transform="translate(1357.60,843.80) scale(1.1974,1)" x="0" y="0" font-family="Liberation Sans" font-size="13.20" font-weight="400" fill="#bdbdbd" style="unicode-bidi:bidi-override;direction:ltr;white-space:pre" >ץרמ</text><text transform="translate(951.72,843.80) scale(1.0828,1)" x="0" y="0" font-family="Liberation Sans" font-size="15.43" font-weight="700" fill="#d0d0d0" style="unicode-bidi:bidi-override;direction:ltr;white-space:pre" >2026</text>
<path d="M1440,265 H1483 V288 H1440 Q1438,288 1438,286 V267 Q1438,265 1440,265 Z" fill="#089981"/><path d="M1484,265 H1569 Q1571,265 1571,267 V286 Q1571,288 1569,288 H1484 Z" fill="#089981"/><text transform="translate(1442.60,281.80) scale(0.9432,1)" x="0" y="0" font-family="Liberation Sans" font-size="15.86" font-weight="400" fill="#ffffff" style="unicode-bidi:bidi-override;direction:ltr;white-space:pre" stroke="#ffffff" stroke-width="0.35">TA90</text><text x="1493.58" y="281.80" letter-spacing="0.910" font-family="Liberation Serif" font-size="16.00" font-weight="400" fill="#ffffff" style="unicode-bidi:bidi-override;direction:ltr;white-space:pre" stroke="#ffffff" stroke-width="0.25">3,983.950</text>
<path d="M12,879.3 H24.1 V894 H18.2 V885.1 H12 Z" fill="#e0e0e0"/><circle cx="29" cy="881.9" r="2.9" fill="#e0e0e0"/><path d="M33.7,879.3 H41.8 L36.1,894 H29.1 Z" fill="#e0e0e0"/><text transform="translate(48.89,894.00) scale(1.0116,1)" x="0" y="0" font-family="Liberation Sans" font-size="20.28" font-weight="700" fill="#e0e0e0" style="unicode-bidi:bidi-override;direction:ltr;white-space:pre" >TradingView</text>
</svg>
</body></html>
